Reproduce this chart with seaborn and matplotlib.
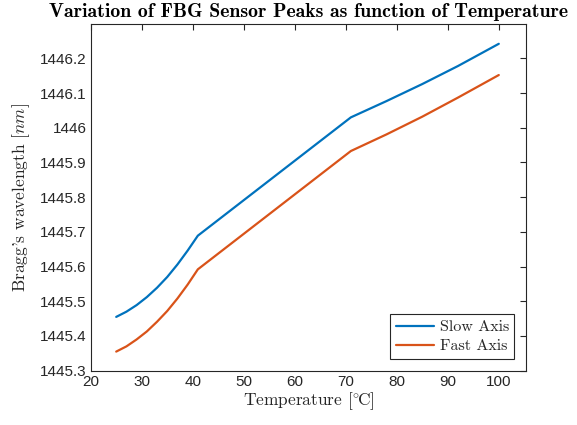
import matplotlib
matplotlib.use("Agg")
import matplotlib.pyplot as plt
import seaborn as sns
import pandas as pd

temps = [25, 27, 29, 31, 33, 35, 37, 39, 41, 71, 78, 85, 92, 100]
slow_axis = [1445.455, 1445.470, 1445.489, 1445.512, 1445.539, 1445.570, 1445.606,
             1445.646, 1445.689, 1446.030, 1446.077, 1446.126, 1446.178, 1446.242]
fast_axis = [1445.355, 1445.370, 1445.390, 1445.413, 1445.441, 1445.472, 1445.508,
             1445.548, 1445.592, 1445.933, 1445.981, 1446.032, 1446.087, 1446.152]
series_names = ["Slow Axis", "Fast Axis"]
x_ticks = [20, 30, 40, 50, 60, 70, 80, 90, 100]
y_ticks = [1445.3, 1445.4, 1445.5, 1445.6, 1445.7, 1445.8, 1445.9, 1446.0, 1446.1, 1446.2]
y_tick_labels = ["1445.3", "1445.4", "1445.5", "1445.6", "1445.7", "1445.8", "1445.9",
                 "1446", "1446.1", "1446.2"]

df = pd.DataFrame({
    "T": temps + temps,
    "wl": slow_axis + fast_axis,
    "series": [series_names[0]] * len(temps) + [series_names[1]] * len(temps),
})

sns.set_style("white")
plt.rcParams["mathtext.fontset"] = "cm"
plt.rcParams["axes.unicode_minus"] = False
dark = "#262626"

fig = plt.figure(figsize=(5.77, 4.25), dpi=100)
ax = fig.add_axes([0.1572, 0.1278, 0.755, 0.8165])

sns.lineplot(data=df, x="T", y="wl", hue="series",
             palette={"Slow Axis": "#0072BD", "Fast Axis": "#D95319"},
             linewidth=1.6, ax=ax, legend=True)

ax.set_xlim(20, 105.4)
ax.set_ylim(1445.3, 1446.3)
ax.set_xticks(x_ticks)
ax.set_xticklabels([str(v) for v in x_ticks])
ax.set_yticks(y_ticks)
ax.set_yticklabels(y_tick_labels)

for sp in ax.spines.values():
    sp.set_color(dark)
    sp.set_linewidth(0.8)
    sp.set_visible(True)

ax.tick_params(direction="in", length=4, width=0.8, colors=dark,
               top=True, right=True, labelsize=11, pad=3)
for lbl in ax.get_xticklabels() + ax.get_yticklabels():
    lbl.set_fontfamily(["Liberation Sans", "DejaVu Sans"])

ax.set_xlabel("Temperature $[^{\\circ}\\!\\mathrm{C}]$", family="cmr10", fontsize=12.5,
              color=dark, labelpad=1)
ax.set_ylabel("Bragg's wavelength [$nm$]", family="cmr10", fontsize=12.5,
              color=dark, labelpad=6)
ax.set_title("Variation of FBG Sensor Peaks as function of Temperature",
             family="cmb10", fontsize=14.3, color="black", pad=5)

leg = ax.legend(loc="lower right", frameon=True, fancybox=False,
                edgecolor=dark, framealpha=1, borderaxespad=0.75,
                handlelength=2.4, handletextpad=0.35, borderpad=0.35,
                labelspacing=0.3, prop={"family": "cmr10", "size": 11.5})
leg.get_frame().set_linewidth(0.8)
for lh in leg.get_lines():
    lh.set_linewidth(1.6)

ax.grid(False)
fig.savefig("out.png", dpi=100)
